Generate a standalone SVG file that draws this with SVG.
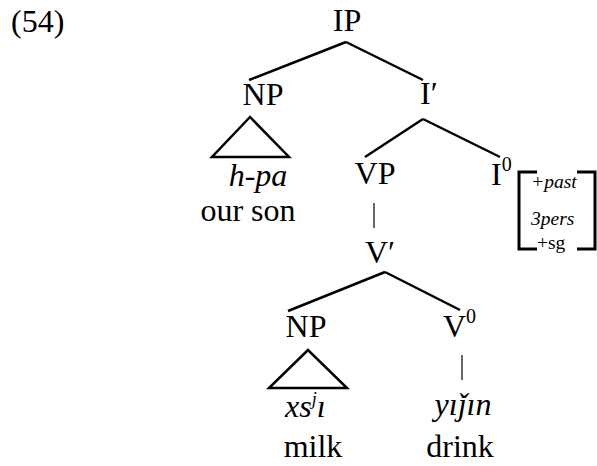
<svg xmlns="http://www.w3.org/2000/svg" width="597" height="466" viewBox="0 0 597 466">
  <style>
    text { font-family: "Liberation Serif", "Times New Roman", serif; font-size: 32px; fill: #000; }
    .it { font-style: italic; }
    .feat { font-size: 19.5px; }
    .edge { stroke: #000; stroke-width: 2.5; fill: none; stroke-linecap: butt; }
    .thin { stroke: #000; stroke-width: 1.2; fill: none; }
    .tri { stroke: #000; stroke-width: 2.5; fill: none; stroke-linejoin: miter; }
    .brk { stroke: #000; stroke-width: 3; fill: none; }
  </style>

  <text x="11" y="32">(54)</text>

  <!-- connectors -->
  <g id="connectors">
    <line class="edge" x1="346" y1="42" x2="249" y2="80"/>
    <line class="edge" x1="346" y1="42" x2="423" y2="80"/>
    <line class="edge" x1="423" y1="119" x2="365" y2="157"/>
    <line class="edge" x1="423" y1="119" x2="500" y2="157"/>
    <line class="thin" x1="374" y1="203" x2="374" y2="228"/>
    <line class="edge" x1="385" y1="272" x2="288" y2="311"/>
    <line class="edge" x1="385" y1="272" x2="460" y2="310"/>
    <line class="thin" x1="462" y1="355" x2="462" y2="380"/>
  </g>

  <g id="IP"><text x="347" y="31" text-anchor="middle">IP</text></g>

  <g id="NP-subject">
    <text x="263" y="105" text-anchor="middle">NP</text>
    <polygon class="tri" points="250,117 212,157 289,157"/>
    <text class="it" x="258" y="186" text-anchor="middle">h-pa</text>
    <text x="248" y="221" text-anchor="middle">our son</text>
  </g>

  <g id="I-bar"><text x="420" y="104">I′</text></g>

  <g id="VP"><text x="375" y="184" text-anchor="middle">VP</text></g>

  <g id="I0">
    <text x="491" y="185">I<tspan font-size="20" dy="-14">0</tspan></text>
    <path class="brk" d="M537,172 H519 V249 H537"/>
    <path class="brk" d="M577,172 H595 V249 H577"/>
    <text class="feat it" x="531" y="188">+past</text>
    <text class="feat it" x="531" y="225">3pers</text>
    <text class="feat" x="537" y="249">+sg</text>
  </g>

  <g id="V-bar"><text x="365" y="263">V′</text></g>

  <g id="NP-object">
    <text x="306" y="337" text-anchor="middle">NP</text>
    <polygon class="tri" points="308,350 269,388 347,388"/>
    <text class="it" x="285" y="417">xs<tspan font-size="18" dy="-12">j</tspan><tspan dy="12">ı</tspan></text>
    <text x="313" y="457" text-anchor="middle">milk</text>
  </g>

  <g id="V0">
    <text x="443" y="337">V<tspan font-size="20" dy="-14">0</tspan></text>
  </g>

  <g id="verb">
    <text class="it" x="463" y="415" text-anchor="middle">yıǰın</text>
    <text x="460" y="457" text-anchor="middle">drink</text>
  </g>
</svg>
